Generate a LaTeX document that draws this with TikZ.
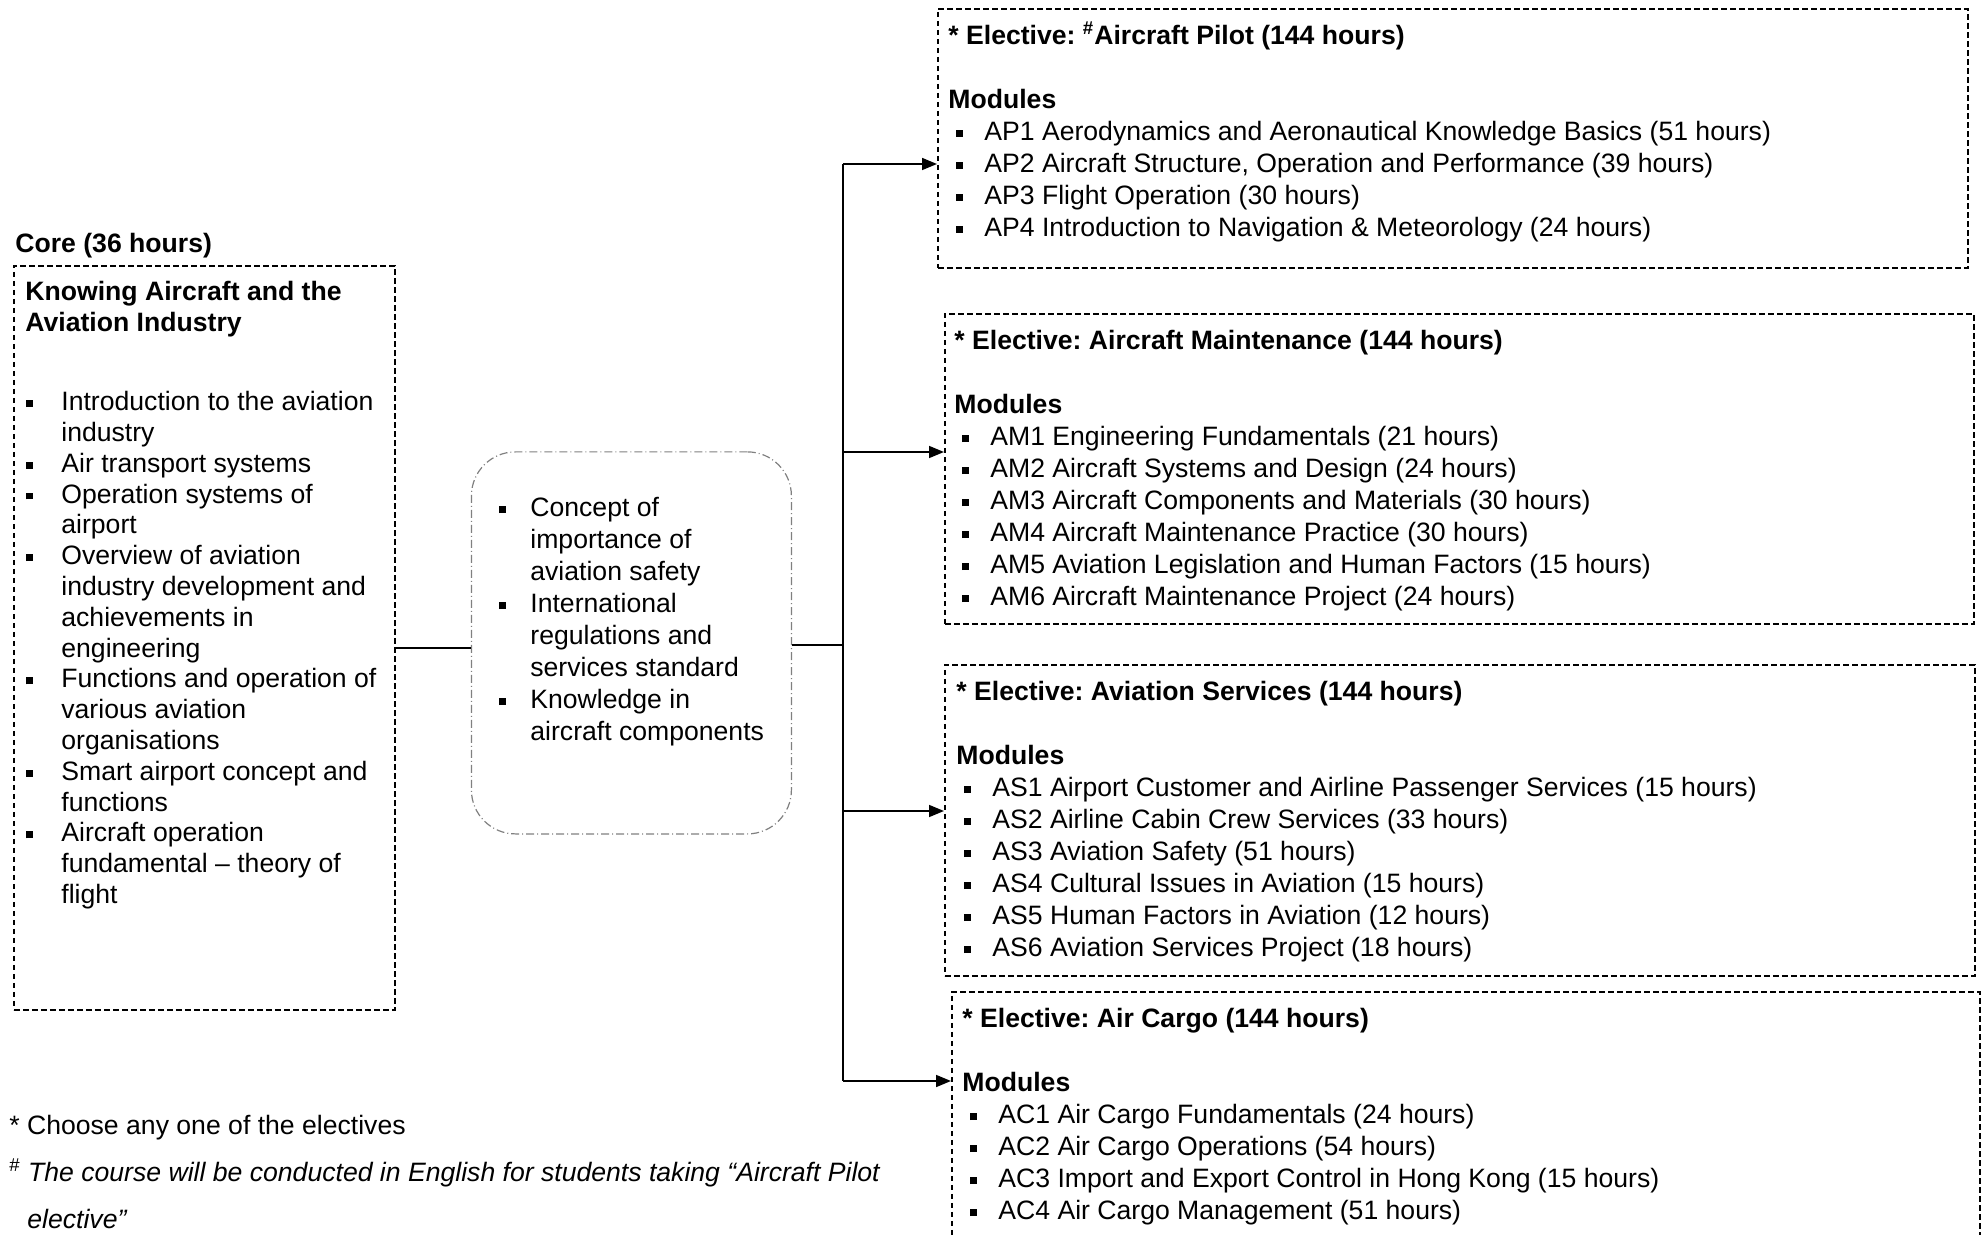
\documentclass[tikz,border=0pt]{standalone}
\usepackage{fontspec}
\setmainfont{Liberation Sans}
\usepackage{tikz}
\usetikzlibrary{arrows.meta,positioning}
\frenchspacing

% small square bullets
\newcommand{\sqb}{\rule[1.8pt]{3.4pt}{3.4pt}}
\newcommand{\cbul}{\makebox[18pt][l]{\hspace*{0.5pt}\sqb}}
\newcommand{\cgap}{\hspace*{18pt}}
\newcommand{\mbul}{\makebox[16.5pt][l]{\hspace*{1pt}\sqb}}
\newcommand{\mgap}{\hspace*{16.5pt}}
\newcommand{\ebul}{\makebox[18pt][l]{\hspace*{4pt}\sqb}}

\begin{document}
\begin{tikzpicture}[x=0.5pt, y=-0.5pt,
        node distance=10mm and 12mm,
        ebox/.style={draw, line width=0.9pt, dash pattern=on 2.8pt off 1.7pt, inner sep=0pt, anchor=north west},
        midbox/.style={draw=gray, line width=0.6pt, rounded corners=22pt, dash pattern=on 4pt off 1.5pt on 0.5pt off 1.5pt, inner sep=0pt},
        txt/.style={font=\fontsize{13.3pt}{15.4pt}\selectfont, align=left, inner sep=0pt, anchor=north west},
        etxt/.style={txt, font=\fontsize{13.3pt}{16pt}\selectfont},
        link/.style={line width=0.8pt},
        >={Triangle[length=7.5pt,width=6pt]}]

        \useasboundingbox (0,0) rectangle (1982,1235);

        % Boxes
        \node[ebox, minimum width=190.5pt, minimum height=372pt] (core) at (13,265) {};
        \node[midbox, right=37.5pt of core, yshift=-2.5pt, minimum width=160pt, minimum height=191pt] (mid) {};

        \node[ebox, minimum width=515pt, minimum height=129.5pt] (ap) at (937,8) {};
        \node[ebox, minimum width=514.5pt, minimum height=155pt] (am) at (944,313) {};
        \node[ebox, minimum width=515pt, minimum height=155.5pt] (as) at (944,664) {};
        \node[ebox, minimum width=514pt, minimum height=140pt] (ac) at (951,991) {};

        % Texts
        \node[txt, font=\fontsize{13.3pt}{15.4pt}\selectfont\bfseries] (corelbl) at (15,233) {Core (36 hours)};

        \node[txt] (coretxt) at (25,281) {\textbf{Knowing Aircraft and the}\\
            \textbf{Aviation Industry}\\[24.2pt]
            \cbul Introduction to the aviation\\
            \cgap industry\\
            \cbul Air transport systems\\
            \cbul Operation systems of\\
            \cgap airport\\
            \cbul Overview of aviation\\
            \cgap industry development and\\
            \cgap achievements in\\
            \cgap engineering\\
            \cbul Functions and operation of\\
            \cgap various aviation\\
            \cgap organisations\\
            \cbul Smart airport concept and\\
            \cgap functions\\
            \cbul Aircraft operation\\
            \cgap fundamental -- theory of\\
            \cgap flight};

        \node[etxt] (midtxt) at (497,497) {\mbul Concept of\\
            \mgap importance of\\
            \mgap aviation safety\\
            \mbul International\\
            \mgap regulations and\\
            \mgap services standard\\
            \mbul Knowledge in\\
            \mgap aircraft components};

        \node[etxt] (aptxt) at (948,21) {\textbf{* Elective: \textsuperscript{\#}Aircraft Pilot (144 hours)}\\[16pt]
            \textbf{Modules}\\
            \ebul AP1 Aerodynamics and Aeronautical Knowledge Basics (51 hours)\\
            \ebul AP2 Aircraft Structure, Operation and Performance (39 hours)\\
            \ebul AP3 Flight Operation (30 hours)\\
            \ebul AP4 Introduction to Navigation \& Meteorology (24 hours)};

        \node[etxt] (amtxt) at (954,330) {\textbf{* Elective: Aircraft Maintenance (144 hours)}\\[16pt]
            \textbf{Modules}\\
            \ebul AM1 Engineering Fundamentals (21 hours)\\
            \ebul AM2 Aircraft Systems and Design (24 hours)\\
            \ebul AM3 Aircraft Components and Materials (30 hours)\\
            \ebul AM4 Aircraft Maintenance Practice (30 hours)\\
            \ebul AM5 Aviation Legislation and Human Factors (15 hours)\\
            \ebul AM6 Aircraft Maintenance Project (24 hours)};

        \node[etxt] (astxt) at (956,681) {\textbf{* Elective: Aviation Services (144 hours)}\\[16pt]
            \textbf{Modules}\\
            \ebul AS1 Airport Customer and Airline Passenger Services (15 hours)\\
            \ebul AS2 Airline Cabin Crew Services (33 hours)\\
            \ebul AS3 Aviation Safety (51 hours)\\
            \ebul AS4 Cultural Issues in Aviation (15 hours)\\
            \ebul AS5 Human Factors in Aviation (12 hours)\\
            \ebul AS6 Aviation Services Project (18 hours)};

        \node[etxt] (actxt) at (962,1008) {\textbf{* Elective: Air Cargo (144 hours)}\\[16pt]
            \textbf{Modules}\\
            \ebul AC1 Air Cargo Fundamentals (24 hours)\\
            \ebul AC2 Air Cargo Operations (54 hours)\\
            \ebul AC3 Import and Export Control in Hong Kong (15 hours)\\
            \ebul AC4 Air Cargo Management (51 hours)};

        \node[txt, font=\fontsize{13.3pt}{23.5pt}\selectfont] (notes) at (9,1115) {* Choose any one of the electives\\
            \textsuperscript{\#} \textit{The course will be conducted in English for students taking “Aircraft Pilot}\\
            \hspace*{9pt}\textit{elective”}};

        % Edges
        \coordinate (hub) at (843,645);
        \coordinate (apin) at (ap.west |- 0,164);
        \coordinate (amin) at (am.west |- 0,452);
        \coordinate (asin) at (as.west |- 0,811);
        \coordinate (acin) at (ac.west |- 0,1081);

        \draw[link] (core.east |- 0,648) -- (mid.west |- 0,648);
        \draw[link] (mid.east |- hub) -- (hub);
        \draw[link] (hub |- apin) -- (hub |- acin);
        \draw[link, ->] (hub |- apin) -- (apin);
        \draw[link, ->] (hub |- amin) -- (amin);
        \draw[link, ->] (hub |- asin) -- (asin);
        \draw[link, ->] (hub |- acin) -- (acin);

\end{tikzpicture}
\end{document}
